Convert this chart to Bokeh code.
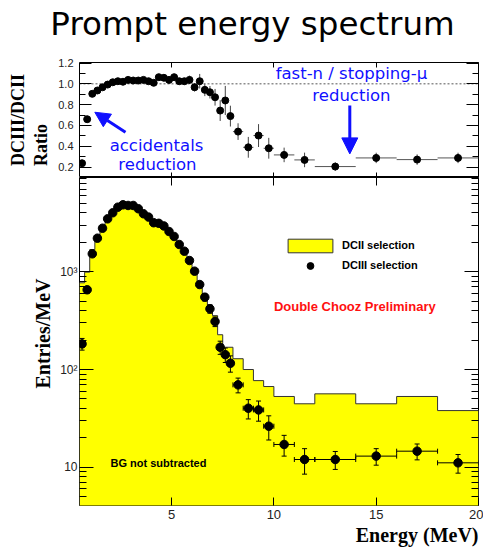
import numpy as np
from bokeh.plotting import figure
from bokeh.layouts import column
from bokeh.models import (Range1d, FixedTicker, LinearAxis, LogAxis, Label, Arrow, Title,
                          NormalHead, Whisker, TeeHead, ColumnDataSource, Span,
                          Legend, LegendItem, PrintfTickFormatter, CustomLabelingPolicy)
from bokeh.embed import file_html
from bokeh.resources import INLINE

# ---------------- data ----------------
fine_edges = list(np.arange(0.5, 8.0, 0.25))
bin_edges = fine_edges + [8.0, 8.5, 9.0, 9.5, 10.0, 11.0, 12.0, 14.0, 16.0, 18.0, 20.0]

# DCII selection histogram (entries / MeV)
dcii = [772, 992, 1690, 2359, 2888, 3510, 3959, 4473, 4778, 4600,
        4627, 4283, 3783, 3541, 3149, 2946, 2784, 2490, 2162, 1857,
        1585, 1257, 1050, 723, 584, 455, 356, 227, 169, 169,
        129, 100, 77, 67, 53, 44.6, 56.4, 44.6, 53, 38]

# DCIII selection points (entries / MeV) and their errors
dciii = [183, 655, 1528, 2208, 2793, 3485, 4018, 4585, 4850, 4775,
         4775, 4420, 3927, 3630, 3180, 3135, 2945, 2585, 2300, 1903,
         1625, 1305, 1015, 741, 550, 418, 310, 169, 142, 116,
         69.7, 40.2, 38.6, 26.3, 17.1, 12.0, 12.0, 13.0, 14.6, 11.1]
dciii_err = [25, 51, 78, 94, 106, 118, 127, 135, 139, 138,
             138, 133, 125, 120, 113, 112, 109, 103, 96, 87,
             81, 72, 64, 54, 47, 41, 35, 26, 24, 22,
             12, 9, 9, 7.3, 4.1, 3.5, 2.5, 2.5, 2.7, 2.4]

# DCIII / DCII ratio and errors
ratio = [0.237, 0.66, 0.904, 0.936, 0.967, 0.993, 1.015, 1.025, 1.02, 1.038,
         1.032, 1.032, 1.038, 1.025, 1.01, 1.064, 1.058, 1.038, 1.064, 1.025,
         1.025, 1.038, 0.967, 1.025, 0.942, 0.919, 0.871, 0.743, 0.84, 0.69,
         0.541, 0.39, 0.503, 0.381, 0.317, 0.269, 0.205, 0.288, 0.272, 0.288]
ratio_err = [0.02, 0.03, 0.02, 0.02, 0.02, 0.02, 0.02, 0.02, 0.02, 0.02,
             0.02, 0.02, 0.02, 0.02, 0.02, 0.03, 0.03, 0.03, 0.03, 0.03,
             0.03, 0.04, 0.04, 0.07, 0.06, 0.06, 0.08, 0.10, 0.14, 0.10,
             0.08, 0.10, 0.11, 0.10, 0.07, 0.07, 0.04, 0.05, 0.05, 0.05]

x_major = [5, 10, 15, 20]
ratio_major = [0.2, 0.4, 0.6, 0.8, 1.0, 1.2]
ratio_minor = [0.1, 0.3, 0.5, 0.7, 0.9, 1.1]
log_major = [10, 100, 1000]
log_minor = [5, 6, 7, 8, 9, 20, 30, 40, 50, 60, 70, 80, 90,
             200, 300, 400, 500, 600, 700, 800, 900,
             2000, 3000, 4000, 5000, 6000, 7000, 8000, 9000]
log_labels = {10: "10", 100: "10\u00b2", 1000: "10\u00b3"}

# ---------------- derived ----------------
left = bin_edges[:-1]
right = bin_edges[1:]
centers = [(a + b) / 2 for a, b in zip(left, right)]

W = 483
TICK_FONT = "Liberation Sans"
SERIF = "Liberation Serif"
BLUE = "#1010ff"

NO_LABELS = CustomLabelingPolicy(code="""
const out = indices.clone();
for (let i = 0; i < out.size; i++) { out.unset(i); }
return out;
""")

def styled_axis(cls, ticker, tin, tmin, labels=True, size="11px", standoff=5, fmt=None, overrides=None):
    ax = cls(ticker=ticker, major_tick_in=tin, major_tick_out=0,
             minor_tick_in=tmin, minor_tick_out=0, axis_line_color=None,
             major_tick_line_color="black", minor_tick_line_color="black")
    if labels:
        ax.major_label_text_font = TICK_FONT
        ax.major_label_text_font_size = size
        ax.major_label_text_color = "#222222"
        ax.major_label_standoff = standoff
    else:
        ax.major_label_text_font_size = "1px"
        ax.major_label_text_alpha = 0
        ax.major_label_standoff = 0
        ax.major_label_policy = NO_LABELS
    if fmt is not None:
        ax.formatter = fmt
    if overrides is not None:
        ax.major_label_overrides = overrides
    return ax

def no_grid(p):
    for g in p.grid:
        g.grid_line_color = None

def serif_title(text, **kw):
    return Title(text=text, text_font=SERIF, text_font_style="bold",
                 text_color="black", **kw)

# ---------------- heading strip ----------------
head = figure(width=W, height=50, x_range=Range1d(0, W), y_range=Range1d(0, 50),
              x_axis_location=None, y_axis_location=None, toolbar_location=None,
              output_backend="svg", title=None, min_border=0,
              min_border_left=0, min_border_right=0, min_border_top=0, min_border_bottom=0)
head.frame_align = False
head.outline_line_color = None
no_grid(head)
head.add_layout(Label(x=252, y=26.1, text="Prompt energy spectrum", text_align="center",
                      text_baseline="alphabetic", text_font="DejaVu Sans",
                      text_font_size="32.5px", text_color="black"))

# ---------------- top panel: ratio ----------------
top = figure(width=W, height=127, x_range=Range1d(0.5, 20), y_range=Range1d(0.1, 1.205),
             x_axis_location=None, y_axis_location=None, toolbar_location=None,
             output_backend="svg", title=None,
             min_border_left=79, min_border_right=5, min_border_top=12, min_border_bottom=0)
top.outline_line_color = "black"
top.outline_line_width = 1
no_grid(top)

ryt = FixedTicker(ticks=ratio_major, minor_ticks=ratio_minor)
xt = FixedTicker(ticks=x_major, minor_ticks=[])
top.add_layout(styled_axis(LinearAxis, ryt, 12, 6, True, "11px", 6,
                           PrintfTickFormatter(format="%.1f")), "left")
top.add_layout(styled_axis(LinearAxis, ryt, 12, 6, False), "right")
top.add_layout(styled_axis(LinearAxis, xt, 5, 0, False), "below")
top.add_layout(styled_axis(LinearAxis, xt, 5, 0, False), "above")
top.add_layout(serif_title("DCIII/DCII\nRatio", align="center", standoff=10,
                           text_font_size="18px", text_line_height=1.15), "left")

top.add_layout(Span(location=1.0, dimension="width", line_color="#555555",
                    line_dash="2 2", line_width=1, level="underlay"))

rsrc = ColumnDataSource(dict(x=centers, y=ratio, left=left, right=right,
                             lo=[r - e for r, e in zip(ratio, ratio_err)],
                             hi=[r + e for r, e in zip(ratio, ratio_err)]))
top.add_layout(Whisker(source=rsrc, base="x", lower="lo", upper="hi", dimension="height",
                       line_color="#444444", line_width=1, lower_head=None, upper_head=None,
                       level="underlay"))
top.add_layout(Whisker(source=rsrc, base="y", lower="left", upper="right", dimension="width",
                       line_color="#555555", line_width=1, lower_head=None, upper_head=None,
                       level="underlay"))
top.scatter("x", "y", source=rsrc, size=7, color="black")

for txt, xx, yy in [("accidentals", 4.263, 0.412), ("reduction", 4.31, 0.223),
                    ("fast-n / stopping-\u03bc", 13.79, 1.099), ("reduction", 13.79, 0.887)]:
    top.add_layout(Label(x=xx, y=yy, text=txt, text_align="center", text_baseline="alphabetic",
                         text_font="DejaVu Sans", text_font_size="16.5px", text_color=BLUE))
top.add_layout(Arrow(x_start=2.748, y_start=0.535, x_end=1.248, y_end=0.727,
                     line_color=BLUE, line_width=3,
                     end=NormalHead(size=15, fill_color=BLUE, line_color=BLUE)))
top.add_layout(Arrow(x_start=13.71, y_start=0.791, x_end=13.71, y_end=0.327,
                     line_color=BLUE, line_width=3,
                     end=NormalHead(size=16, fill_color=BLUE, line_color=BLUE)))

# ---------------- bottom panel: spectrum ----------------
bot = figure(width=W, height=371, x_range=Range1d(0.5, 20), y_range=Range1d(4.06, 9230),
             y_axis_type="log", x_axis_location=None, y_axis_location=None,
             toolbar_location=None, output_backend="svg", title=None,
             min_border_left=79, min_border_right=5, min_border_top=0, min_border_bottom=43)
bot.outline_line_color = "black"
bot.outline_line_width = 1
no_grid(bot)

lyt = FixedTicker(ticks=log_major, minor_ticks=log_minor)
bot.add_layout(styled_axis(LogAxis, lyt, 14, 7, True, "12px", 2, None, log_labels), "left")
bot.add_layout(styled_axis(LogAxis, lyt, 14, 7, False), "right")
bot.add_layout(styled_axis(LinearAxis, xt, 8, 0, True, "13px", 4), "below")
bot.add_layout(styled_axis(LinearAxis, xt, 8, 0, False), "above")
bot.add_layout(serif_title("Entries/MeV", align="left", offset=117, standoff=8,
                           text_font_size="20px"), "left")
bot.add_layout(serif_title("Energy (MeV)", align="right", offset=0, standoff=0,
                           text_font_size="20px"), "below")

# histogram as a filled step polygon
hx, hy = [], []
for a, b, v in zip(left, right, dcii):
    hx += [a, b]
    hy += [v, v]
px = [bin_edges[0]] + hx + [bin_edges[-1], bin_edges[0]]
py = [1.0] + hy + [1.0, 1.0]
hist = bot.patch(px, py, fill_color="#ffff00", line_color="#333333", line_width=1)

bsrc = ColumnDataSource(dict(x=centers, y=dciii, left=left, right=right,
                             lo=[v - e for v, e in zip(dciii, dciii_err)],
                             hi=[v + e for v, e in zip(dciii, dciii_err)]))
bot.add_layout(Whisker(source=bsrc, base="x", lower="lo", upper="hi", dimension="height",
                       line_color="black", line_width=1,
                       lower_head=TeeHead(size=5, line_color="black", line_width=1),
                       upper_head=TeeHead(size=5, line_color="black", line_width=1),
                       level="annotation"))
bot.add_layout(Whisker(source=bsrc, base="y", lower="left", upper="right", dimension="width",
                       line_color="black", line_width=1,
                       lower_head=TeeHead(size=5, line_color="black", line_width=1),
                       upper_head=TeeHead(size=5, line_color="black", line_width=1),
                       level="annotation"))
pts = bot.scatter("x", "y", source=bsrc, size=8.5, color="black")

leg = Legend(items=[LegendItem(label="DCII selection", renderers=[hist]),
                    LegendItem(label="DCIII selection", renderers=[pts])],
             location=(203, 231.5), padding=0, margin=0, spacing=3,
             glyph_width=56, glyph_height=17, label_height=17, label_standoff=4,
             border_line_color=None, background_fill_alpha=0,
             label_text_font=TICK_FONT, label_text_font_style="bold",
             label_text_font_size="11px", label_text_color="black")
bot.add_layout(leg)

bot.add_layout(Label(x=10.0, y=441, text="Double Chooz Preliminary", text_align="left",
                     text_baseline="middle", text_font=TICK_FONT, text_font_style="bold",
                     text_font_size="13px", text_color="#ff1010"))
bot.add_layout(Label(x=2.015, y=11.1, text="BG not subtracted", text_align="left",
                     text_baseline="middle", text_font=TICK_FONT, text_font_style="bold",
                     text_font_size="11px", text_color="black"))

layout = column(head, top, bot, spacing=0)
open("out.html", "w").write(file_html(layout, INLINE))
